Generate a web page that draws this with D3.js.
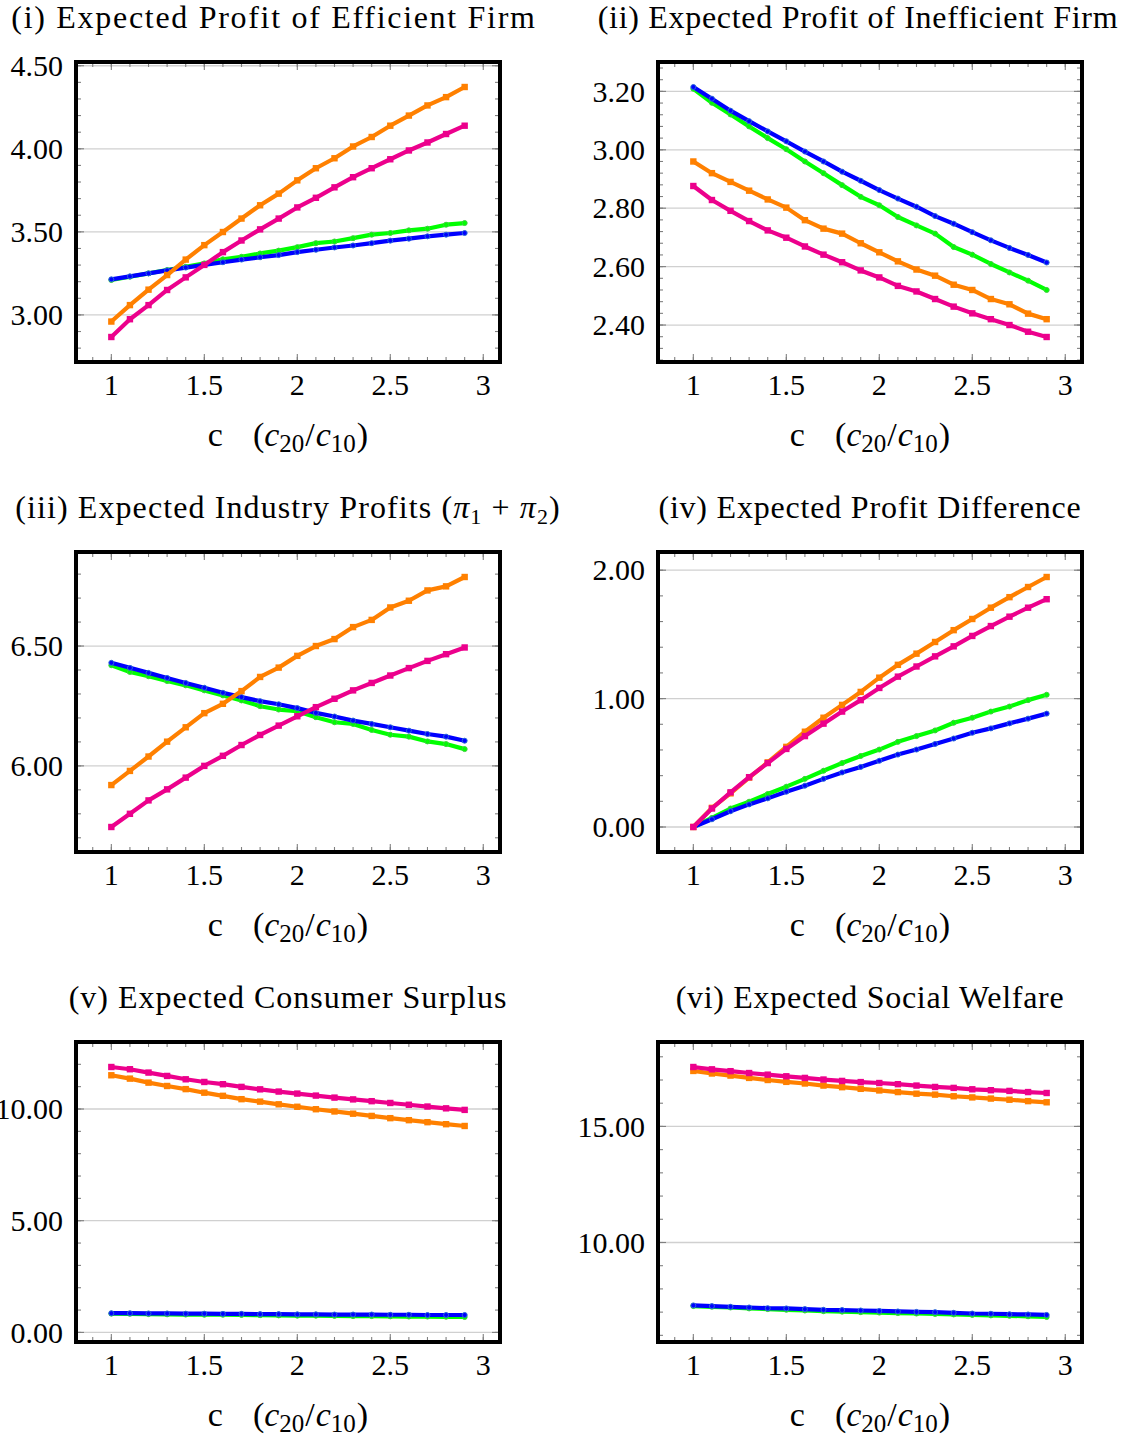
<!DOCTYPE html>
<html>
<head>
<meta charset="utf-8">
<script src="https://cdn.jsdelivr.net/npm/d3@7"></script>
<style>
  body { margin: 0; background: #fff; }
  svg text { font-family: "Liberation Serif", "Times New Roman", serif; fill: #000; }
</style>
</head>
<body>
<svg id="chart" width="1126" height="1437"></svg>
<script>
// cost ratio c = c20 / c10 on the x axis
const cValues = [1.0, 1.1, 1.2, 1.3, 1.4, 1.5, 1.6, 1.7, 1.8, 1.9,
                 2.0, 2.1, 2.2, 2.3, 2.4, 2.5, 2.6, 2.7, 2.8, 2.9];
const xTickLabels = [1, 1.5, 2, 2.5, 3];

// (i) expected profit of efficient firm
const effBlue    = [3.214, 3.232, 3.250, 3.268, 3.285, 3.301, 3.317, 3.333, 3.347, 3.360, 3.378, 3.392, 3.406, 3.418, 3.432, 3.447, 3.459, 3.473, 3.483, 3.493];
const effGreen   = [3.210, 3.230, 3.250, 3.270, 3.290, 3.310, 3.335, 3.350, 3.370, 3.387, 3.408, 3.432, 3.442, 3.462, 3.483, 3.493, 3.509, 3.519, 3.543, 3.553];
const effOrange  = [2.960, 3.059, 3.152, 3.240, 3.333, 3.420, 3.499, 3.580, 3.660, 3.730, 3.810, 3.883, 3.943, 4.014, 4.071, 4.139, 4.200, 4.261, 4.311, 4.372];
const effMagenta = [2.867, 2.974, 3.059, 3.150, 3.226, 3.301, 3.378, 3.448, 3.515, 3.580, 3.647, 3.705, 3.768, 3.829, 3.883, 3.937, 3.990, 4.038, 4.089, 4.139];

// (ii) expected profit of inefficient firm
const ineffBlue    = [3.215, 3.175, 3.134, 3.098, 3.063, 3.029, 2.994, 2.960, 2.925, 2.894, 2.862, 2.833, 2.805, 2.773, 2.747, 2.718, 2.690, 2.664, 2.640, 2.614];
const ineffGreen   = [3.209, 3.161, 3.121, 3.080, 3.040, 3.002, 2.960, 2.920, 2.879, 2.839, 2.810, 2.770, 2.741, 2.713, 2.667, 2.641, 2.609, 2.580, 2.552, 2.520];
const ineffOrange  = [2.960, 2.920, 2.890, 2.860, 2.830, 2.802, 2.759, 2.730, 2.713, 2.680, 2.649, 2.618, 2.590, 2.569, 2.538, 2.520, 2.489, 2.471, 2.439, 2.420];
const ineffMagenta = [2.876, 2.828, 2.791, 2.756, 2.724, 2.699, 2.669, 2.641, 2.615, 2.587, 2.563, 2.534, 2.515, 2.489, 2.463, 2.440, 2.420, 2.400, 2.377, 2.359];

// (iii) expected industry profits
const indBlue    = [6.430, 6.409, 6.388, 6.367, 6.346, 6.326, 6.305, 6.287, 6.270, 6.257, 6.241, 6.221, 6.206, 6.189, 6.175, 6.161, 6.147, 6.133, 6.122, 6.105];
const indGreen   = [6.420, 6.392, 6.374, 6.354, 6.336, 6.315, 6.294, 6.273, 6.249, 6.235, 6.228, 6.203, 6.182, 6.175, 6.150, 6.130, 6.122, 6.102, 6.091, 6.070];
const indOrange  = [5.920, 5.979, 6.039, 6.101, 6.161, 6.220, 6.259, 6.312, 6.371, 6.410, 6.459, 6.500, 6.529, 6.579, 6.609, 6.661, 6.689, 6.732, 6.749, 6.788];
const indMagenta = [5.745, 5.800, 5.856, 5.902, 5.951, 6.000, 6.042, 6.087, 6.129, 6.168, 6.207, 6.245, 6.280, 6.315, 6.346, 6.377, 6.408, 6.438, 6.466, 6.494];

// (iv) expected profit difference
const diffBlue    = [0, 0.060, 0.123, 0.176, 0.223, 0.275, 0.322, 0.375, 0.425, 0.468, 0.516, 0.564, 0.603, 0.647, 0.689, 0.734, 0.768, 0.807, 0.844, 0.883];
const diffGreen   = [0, 0.071, 0.144, 0.197, 0.257, 0.314, 0.375, 0.438, 0.498, 0.553, 0.603, 0.663, 0.708, 0.752, 0.812, 0.851, 0.899, 0.938, 0.988, 1.030];
const diffOrange  = [0, 0.149, 0.262, 0.385, 0.503, 0.624, 0.742, 0.851, 0.951, 1.052, 1.163, 1.263, 1.350, 1.441, 1.533, 1.620, 1.708, 1.790, 1.869, 1.947];
const diffMagenta = [0, 0.144, 0.270, 0.388, 0.498, 0.608, 0.708, 0.805, 0.899, 0.988, 1.083, 1.171, 1.250, 1.329, 1.407, 1.488, 1.565, 1.638, 1.708, 1.774];

// (v) expected consumer surplus
const csBlue    = [0.86, 0.86, 0.85, 0.85, 0.84, 0.84, 0.83, 0.83, 0.82, 0.82, 0.81, 0.81, 0.80, 0.80, 0.80, 0.79, 0.79, 0.78, 0.78, 0.78];
const csGreen   = [0.84, 0.83, 0.82, 0.81, 0.80, 0.79, 0.79, 0.78, 0.77, 0.76, 0.75, 0.75, 0.74, 0.73, 0.73, 0.72, 0.71, 0.71, 0.70, 0.69];
const csOrange  = [11.51, 11.36, 11.18, 11.03, 10.89, 10.73, 10.59, 10.44, 10.33, 10.21, 10.10, 9.99, 9.89, 9.79, 9.69, 9.59, 9.50, 9.41, 9.32, 9.24];
const csMagenta = [11.88, 11.78, 11.63, 11.48, 11.33, 11.21, 11.11, 10.99, 10.88, 10.78, 10.69, 10.60, 10.51, 10.43, 10.35, 10.27, 10.19, 10.11, 10.03, 9.96];

// (vi) expected social welfare
const swBlue    = [7.29, 7.26, 7.23, 7.20, 7.17, 7.16, 7.13, 7.10, 7.09, 7.07, 7.05, 7.03, 7.01, 7.00, 6.97, 6.94, 6.93, 6.91, 6.90, 6.88];
const swGreen   = [7.26, 7.23, 7.20, 7.16, 7.13, 7.10, 7.07, 7.04, 7.02, 7.00, 6.98, 6.96, 6.94, 6.92, 6.90, 6.88, 6.86, 6.84, 6.82, 6.79];
const swOrange  = [17.39, 17.28, 17.19, 17.09, 17.00, 16.92, 16.85, 16.76, 16.69, 16.62, 16.55, 16.48, 16.41, 16.37, 16.30, 16.25, 16.20, 16.15, 16.09, 16.04];
const swMagenta = [17.56, 17.46, 17.38, 17.30, 17.23, 17.16, 17.09, 17.02, 16.96, 16.91, 16.87, 16.82, 16.76, 16.70, 16.66, 16.60, 16.56, 16.53, 16.48, 16.44];

// series styles, in drawing order (magenta ends on top)
const seriesStyle = [
  { key: 'green',   color: '#00ff00', marker: 'circle', ring: '#3fd03f' },
  { key: 'blue',    color: '#0000ff', marker: 'circle', ring: '#2a6ad8' },
  { key: 'orange',  color: '#ff8000', marker: 'square' },
  { key: 'magenta', color: '#ec008c', marker: 'square' }
];

// panel definitions built from the arrays above
const panels = [
  { title: [{ t: '(i) Expected Profit of Efficient Firm' }], shift: -14, spacing: 1.7,
    series: { green: effGreen, blue: effBlue, orange: effOrange, magenta: effMagenta }, major: 0.5, minor: 0.1 },
  { title: [{ t: '(ii) Expected Profit of Inefficient Firm' }], shift: -12, spacing: 0.7,
    series: { green: ineffGreen, blue: ineffBlue, orange: ineffOrange, magenta: ineffMagenta }, major: 0.2, minor: 0.04 },
  { title: [{ t: '(iii) Expected Industry Profits (' }, { t: 'π', it: true }, { t: '1', sub: true },
            { t: ' + ' }, { t: 'π', it: true }, { t: '2', sub: true }, { t: ')' }], shift: 0, spacing: 1.1,
    series: { green: indGreen, blue: indBlue, orange: indOrange, magenta: indMagenta }, major: 0.5, minor: 0.1 },
  { title: [{ t: '(iv) Expected Profit Difference' }], shift: 0, spacing: 0.8,
    series: { green: diffGreen, blue: diffBlue, orange: diffOrange, magenta: diffMagenta }, major: 1, minor: 0.2 },
  { title: [{ t: '(v) Expected Consumer Surplus' }], shift: 0, spacing: 1.0,
    series: { green: csGreen, blue: csBlue, orange: csOrange, magenta: csMagenta }, major: 5, minor: 1 },
  { title: [{ t: '(vi) Expected Social Welfare' }], shift: 0, spacing: 0.7,
    series: { green: swGreen, blue: swBlue, orange: swOrange, magenta: swMagenta }, major: 5, minor: 1 }
];

// layout
const width = 424;
const height = 300;
const colX = [76, 658];
const rowY = [62, 552, 1042];
const fontSize = 30;

const svg = d3.select('#chart');

// ticks at every multiple of step inside [lo, hi]
function stepTicks(lo, hi, step) {
  let out = [];
  let a = Math.ceil(lo / step - 1e-9), b = Math.floor(hi / step + 1e-9);
  for (let i = a; i <= b; i++) out.push(+(i * step).toFixed(6));
  return out;
}

// pgfplots style: enlarge limits by 10% of the data range
function enlarged(values) {
  let ext = d3.extent(values);
  let pad = (ext[1] - ext[0]) * 0.1;
  return [ext[0] - pad, ext[1] + pad];
}

panels.forEach(function (p, i) {
  let g = svg.append('g')
    .attr('transform', 'translate(' + colX[i % 2] + ',' + rowY[Math.floor(i / 2)] + ')');

  let allY = [].concat(...Object.values(p.series));
  let x = d3.scaleLinear().domain(enlarged(cValues)).range([0, width]);
  let y = d3.scaleLinear().domain(enlarged(allY)).range([height, 0]);

  // horizontal grid at major y ticks
  let yMajor = stepTicks(y.domain()[0], y.domain()[1], p.major);
  g.selectAll('.grid')
    .data(yMajor)
    .join('line')
    .attr('class', 'grid')
    .attr('x1', 0).attr('x2', width)
    .attr('y1', d => y(d)).attr('y2', d => y(d))
    .attr('stroke', '#d0d0d0')
    .attr('stroke-width', 1.3);

  // inward ticks on all four sides
  let xMajor = stepTicks(x.domain()[0], x.domain()[1], 0.5);
  let xMinor = stepTicks(x.domain()[0], x.domain()[1], 0.1);
  let yMinor = stepTicks(y.domain()[0], y.domain()[1], p.minor);
  let ticks = g.append('g').attr('stroke', '#808080').attr('stroke-width', 1.1);
  function addX(vals, len) {
    vals.forEach(function (v) {
      ticks.append('line').attr('x1', x(v)).attr('x2', x(v)).attr('y1', height).attr('y2', height - len);
      ticks.append('line').attr('x1', x(v)).attr('x2', x(v)).attr('y1', 0).attr('y2', len);
    });
  }
  function addY(vals, len) {
    vals.forEach(function (v) {
      ticks.append('line').attr('y1', y(v)).attr('y2', y(v)).attr('x1', 0).attr('x2', len);
      ticks.append('line').attr('y1', y(v)).attr('y2', y(v)).attr('x1', width).attr('x2', width - len);
    });
  }
  addX(xMinor, 5);
  addX(xMajor, 8);
  addY(yMinor, 5);
  addY(yMajor, 8);

  // series lines and markers
  seriesStyle.forEach(function (s) {
    let vals = p.series[s.key];
    let pts = cValues.map((c, k) => [c, vals[k]]);
    let line = d3.line().x(d => x(d[0])).y(d => y(d[1]));
    g.append('path')
      .attr('d', line(pts))
      .attr('fill', 'none')
      .attr('stroke', s.color)
      .attr('stroke-width', 4.2)
      .attr('stroke-linejoin', 'round');
    if (s.marker === 'circle') {
      g.selectAll('.m-' + s.key)
        .data(pts)
        .join('circle')
        .attr('class', 'm-' + s.key)
        .attr('cx', d => x(d[0])).attr('cy', d => y(d[1]))
        .attr('r', 2.5)
        .attr('fill', s.color)
        .attr('stroke', s.ring)
        .attr('stroke-width', 1);
    } else {
      g.selectAll('.m-' + s.key)
        .data(pts)
        .join('rect')
        .attr('class', 'm-' + s.key)
        .attr('x', d => x(d[0]) - 3.2).attr('y', d => y(d[1]) - 3.2)
        .attr('width', 6.4).attr('height', 6.4)
        .attr('fill', s.color);
    }
  });

  // frame
  g.append('rect')
    .attr('x', 0).attr('y', 0)
    .attr('width', width).attr('height', height)
    .attr('fill', 'none')
    .attr('stroke', '#000')
    .attr('stroke-width', 4);

  // tick labels
  g.selectAll('.ylab')
    .data(yMajor)
    .join('text')
    .attr('class', 'ylab')
    .attr('x', -13)
    .attr('y', d => y(d))
    .attr('dy', '0.34em')
    .attr('text-anchor', 'end')
    .style('font-size', fontSize + 'px')
    .text(d3.format('.2f'));

  g.selectAll('.xlab')
    .data(xTickLabels)
    .join('text')
    .attr('class', 'xlab')
    .attr('x', d => x(d))
    .attr('y', height + 33)
    .attr('text-anchor', 'middle')
    .style('font-size', fontSize + 'px')
    .text(d3.format('~g'));

  // x axis label: c (c20/c10)
  let lab = g.append('text')
    .attr('x', width / 2)
    .attr('y', height + 84)
    .attr('text-anchor', 'middle')
    .style('font-size', '34px');
  lab.append('tspan').text('c');
  lab.append('tspan').attr('dx', 30).text('(');
  lab.append('tspan').style('font-style', 'italic').text('c');
  lab.append('tspan').attr('dy', 6).style('font-size', '25px').text('20');
  lab.append('tspan').attr('dy', -6).attr('dx', 1).text('/');
  lab.append('tspan').attr('dx', 1).style('font-style', 'italic').text('c');
  lab.append('tspan').attr('dy', 6).style('font-size', '25px').text('10');
  lab.append('tspan').attr('dy', -6).attr('dx', 1).text(')');

  // title
  let title = g.append('text')
    .attr('x', width / 2 + p.shift)
    .attr('y', -34)
    .attr('text-anchor', 'middle')
    .style('font-size', '32px')
    .style('letter-spacing', p.spacing + 'px');
  p.title.forEach(function (seg, k) {
    let ts = title.append('tspan').text(seg.t);
    if (seg.it) ts.style('font-style', 'italic');
    if (seg.sub) ts.attr('dy', 6).style('font-size', '22px');
    else if (k > 0 && p.title[k - 1].sub) ts.attr('dy', -6);
  });
});
</script>
</body>
</html>
